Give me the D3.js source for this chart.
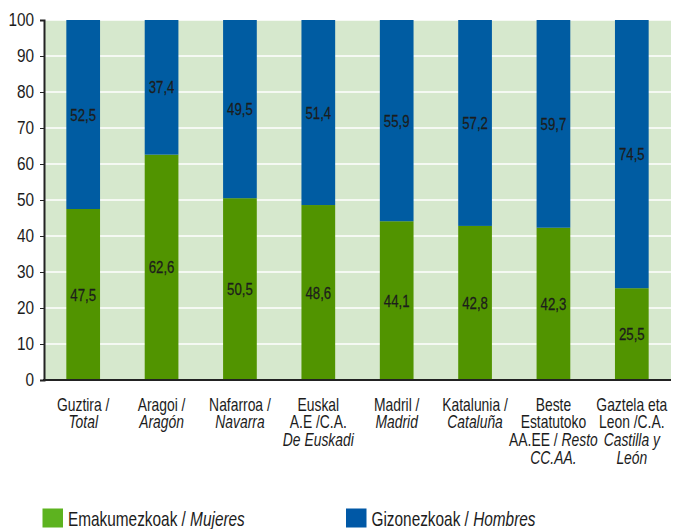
<!DOCTYPE html>
<html>
<head>
<meta charset="utf-8">
<script src="https://cdn.jsdelivr.net/npm/d3@7"></script>
<style>
  body { margin: 0; background: #fff; }
  text { font-family: "Liberation Sans", Arial, sans-serif; fill: #1c1c1c; }
</style>
</head>
<body>
<div id="chart"></div>
<script>
// category labels: each line is a list of [text, italic] pieces
var categories = [
    [[['Guztira /', 0]], [['Total', 1]]],
    [[['Aragoi /', 0]], [['Aragón', 1]]],
    [[['Nafarroa /', 0]], [['Navarra', 1]]],
    [[['Euskal', 0]], [['A.E /C.A.', 0]], [['De Euskadi', 1]]],
    [[['Madril /', 0]], [['Madrid', 1]]],
    [[['Katalunia /', 0]], [['Cataluña', 1]]],
    [[['Beste', 0]], [['Estatutoko', 0]], [['AA.EE /', 0], ['Resto', 1]], [['CC.AA.', 1]]],
    [[['Gaztela eta', 0]], [['Leon /C.A.', 0]], [['Castilla y', 1]], [['León', 1]]]
];
var mujeres = [47.5, 62.6, 50.5, 48.6, 44.1, 42.8, 42.3, 25.5];
var hombres = [52.5, 37.4, 49.5, 51.4, 55.9, 57.2, 59.7, 74.5];
var seriesNames = [['Emakumezkoak / ', 'Mujeres'], ['Gizonezkoak / ', 'Hombres']];
var yTicks = [0, 10, 20, 30, 40, 50, 60, 70, 80, 90, 100];

var width = 679, height = 529;
var margin = {left: 44, right: 8, top: 20, bottom: 149};
var barColors = ['#519400', '#005ca2'];
var legendColors = ['#5db31f', '#0058a6'];
var squeeze = 0.75;   // the original font is a condensed face

function at(px, py, s) {
    return 'translate(' + px + ',' + py + ') scale(' + (s || squeeze) + ',1)';
}

var svg = d3.select('#chart').append('svg')
    .attr('width', width)
    .attr('height', height);

var x = d3.scaleBand()
    .domain(d3.range(categories.length))
    .range([margin.left, width - margin.right])
    .paddingInner(0.57)
    .paddingOuter(0.285);

var y = d3.scaleLinear()
    .domain([0, 100])
    .range([height - margin.bottom, margin.top])
    .clamp(true);

// plot background
svg.append('rect')
    .attr('x', margin.left).attr('y', margin.top)
    .attr('width', width - margin.right - margin.left)
    .attr('height', y(0) - margin.top)
    .attr('fill', '#d6e8cd');

// gridlines
svg.append('g').selectAll('line')
    .data(yTicks.slice(1))
    .enter().append('line')
    .attr('x1', margin.left).attr('x2', width - margin.right)
    .attr('y1', function(d) { return y(d); })
    .attr('y2', function(d) { return y(d); })
    .attr('stroke', '#fff')
    .attr('stroke-width', 1.5);

var stacked = d3.stack().keys([0, 1])(categories.map(function(c, i) {
    return {0: mujeres[i], 1: hombres[i]};
}));

var layers = svg.append('g').selectAll('g')
    .data(stacked)
    .enter().append('g')
    .attr('fill', function(d, i) { return barColors[i]; });

layers.selectAll('rect')
    .data(function(d) { return d; })
    .enter().append('rect')
    .attr('x', function(d, i) { return x(i); })
    .attr('width', x.bandwidth())
    .attr('y', function(d) { return y(d[1]); })
    .attr('height', function(d) { return y(d[0]) - y(d[1]); });

// value labels
layers.selectAll('text')
    .data(function(d) { return d; })
    .enter().append('text')
    .attr('transform', function(d, i) {
        return at(x(i) + x.bandwidth() / 2, (y(d[0]) + y(d[1])) / 2 + 6, 0.8);
    })
    .attr('text-anchor', 'middle')
    .style('font-size', '16.5px')
    .style('stroke', '#1c1c1c')
    .style('stroke-width', 0.25)
    .text(function(d) { return d3.format('.1f')(d[1] - d[0]).replace('.', ','); });

// y axis
var yAxis = svg.append('g')
    .attr('transform', 'translate(' + margin.left + ',0)')
    .call(d3.axisLeft(y).tickValues(yTicks).tickSize(4).tickPadding(6));
yAxis.select('.domain').attr('stroke', '#222').attr('stroke-width', 2);
yAxis.selectAll('.tick line').attr('stroke', '#222');
yAxis.selectAll('.tick text')
    .style('font-size', '18.5px')
    .attr('fill', '#1c1c1c')
    .attr('x', -10 / 0.83)
    .attr('transform', 'scale(0.83,1)');

// x axis line
svg.append('line')
    .attr('x1', margin.left - 1).attr('x2', width - margin.right)
    .attr('y1', y(0)).attr('y2', y(0))
    .attr('stroke', '#222').attr('stroke-width', 2);

// category labels
var catLabels = svg.append('g').selectAll('text')
    .data(categories)
    .enter().append('text')
    .attr('text-anchor', 'middle')
    .attr('transform', function(d, i) { return at(x(i) + x.bandwidth() / 2, y(0) + 30.5); })
    .style('font-size', '18.5px');

catLabels.each(function(lines) {
    var t = d3.select(this);
    lines.forEach(function(line, j) {
        line.forEach(function(piece, k) {
            var ts = t.append('tspan')
                .text(piece[0] + (k < line.length - 1 ? ' ' : ''))
                .style('font-style', piece[1] ? 'italic' : 'normal');
            if (k === 0) {
                ts.attr('x', 0).attr('y', j * 17.8);
            }
        });
    });
});

// legend
var legend = svg.append('g').selectAll('g')
    .data(seriesNames)
    .enter().append('g')
    .attr('transform', function(d, i) { return 'translate(' + (42.5 + i * 303.5) + ',508.5)'; });
legend.append('rect')
    .attr('width', 20.5).attr('height', 19)
    .attr('fill', function(d, i) { return legendColors[i]; });
var lt = legend.append('text')
    .attr('transform', at(25.5, 17.5))
    .style('font-size', '20.5px');
lt.append('tspan').text(function(d) { return d[0]; });
lt.append('tspan').style('font-style', 'italic').text(function(d) { return d[1]; });
</script>
</body>
</html>
